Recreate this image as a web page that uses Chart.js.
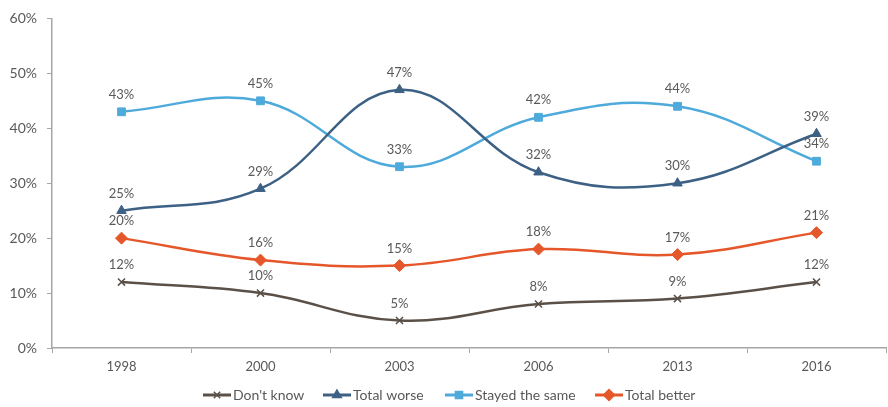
<!DOCTYPE html>
<html>
<head>
<meta charset="utf-8">
<script src="https://cdn.jsdelivr.net/npm/chart.js@4"></script>
<style>
  html, body { margin: 0; padding: 0; background: #fff; overflow: hidden; }
  #wrap { width: 893px; height: 407px; }
</style>
</head>
<body>
<div id="wrap"><canvas id="chart" width="893" height="407"></canvas></div>
<script>
'use strict';

// Survey years and series (percent)
var years = ['1998', '2000', '2003', '2006', '2013', '2016'];
var dontKnow = [12, 10, 5, 8, 9, 12];
var totalWorse = [25, 29, 47, 32, 30, 39];
var stayedSame = [43, 45, 33, 42, 44, 34];
var totalBetter = [20, 16, 15, 18, 17, 21];
var yTicks = [0, 10, 20, 30, 40, 50, 60];

var textColor = '#595959';
var fontFamily = 'Lato, "Open Sans", sans-serif';

var series = [
    { label: "Don't know", data: dontKnow, color: '#5a5048', style: 'crossRot', radius: 5 },
    { label: 'Total worse', data: totalWorse, color: '#3d6185', style: 'triangle', radius: 5.5 },
    { label: 'Stayed the same', data: stayedSame, color: '#4eaadb', style: 'rect', radius: 5.5 },
    { label: 'Total better', data: totalBetter, color: '#e5572a', style: 'rectRot', radius: 6 }
];

// Legend swatch: short line with the marker on it
function makeSwatch(s) {
    var c = document.createElement('canvas');
    c.width = 28;
    c.height = 14;
    var g = c.getContext('2d');
    g.strokeStyle = s.color;
    g.lineWidth = 3;
    g.beginPath();
    g.moveTo(0, 7);
    g.lineTo(28, 7);
    g.stroke();
    g.fillStyle = s.color;
    g.lineWidth = 1.5;
    Chart.helpers.drawPoint(g, { pointStyle: s.style, radius: s.radius - 0.5, borderWidth: 1.5 }, 14, 7);
    return c;
}

var datasets = series.map(function (s) {
    return {
        label: s.label,
        data: s.data,
        borderColor: s.color,
        backgroundColor: s.color,
        borderWidth: 2.5,
        pointStyle: s.style,
        pointRadius: s.radius,
        pointBorderWidth: s.style === 'crossRot' ? 1.5 : 1,
        pointBorderColor: s.color,
        pointBackgroundColor: s.color,
        tension: 0.4,
        fill: false
    };
});

// Value labels above each point
var valueLabels = {
    id: 'valueLabels',
    afterDatasetsDraw: function (chart) {
        var ctx = chart.ctx;
        ctx.save();
        ctx.font = '13px ' + fontFamily;
        ctx.fillStyle = textColor;
        ctx.textAlign = 'center';
        ctx.textBaseline = 'middle';
        chart.data.datasets.forEach(function (ds, i) {
            chart.getDatasetMeta(i).data.forEach(function (pt, j) {
                ctx.fillText(ds.data[j] + '%', pt.x, pt.y - 17);
            });
        });
        ctx.restore();
    }
};

// Legend drawn along the bottom
var bottomLegend = {
    id: 'bottomLegend',
    afterDraw: function (chart) {
        var ctx = chart.ctx;
        var xs = [203, 323, 445, 595];
        ctx.save();
        ctx.font = '14px ' + fontFamily;
        ctx.fillStyle = textColor;
        ctx.textBaseline = 'middle';
        series.forEach(function (s, i) {
            ctx.drawImage(makeSwatch(s), xs[i], 388);
            ctx.fillText(s.label, xs[i] + 30, 395);
        });
        ctx.restore();
    }
};

new Chart(document.getElementById('chart').getContext('2d'), {
    type: 'line',
    data: { labels: years, datasets: datasets },
    plugins: [valueLabels, bottomLegend],
    options: {
        responsive: false,
        animation: false,
        layout: { padding: { top: 10, bottom: 29, right: 0, left: 0 } },
        plugins: {
            legend: { display: false },
            tooltip: { enabled: false }
        },
        scales: {
            x: {
                offset: true,
                grid: {
                    offset: true,
                    drawOnChartArea: false,
                    tickLength: 5,
                    color: '#a6a6a6'
                },
                border: { color: '#a6a6a6', width: 1.5 },
                ticks: {
                    color: textColor,
                    font: { family: fontFamily, size: 13 },
                    padding: 6
                },
                afterFit: function (s) { s.height = 30; }
            },
            y: {
                min: 0,
                max: 60,
                afterBuildTicks: function (s) {
                    s.ticks = yTicks.map(function (v) { return { value: v }; });
                },
                grid: {
                    drawOnChartArea: false,
                    tickLength: 5,
                    color: '#a6a6a6'
                },
                border: { color: '#a6a6a6', width: 1.5 },
                ticks: {
                    color: textColor,
                    font: { family: fontFamily, size: 14 },
                    padding: 10,
                    callback: function (v) { return v + '%'; }
                },
                afterFit: function (s) { s.width = 52; }
            }
        }
    }
});
</script>
</body>
</html>
